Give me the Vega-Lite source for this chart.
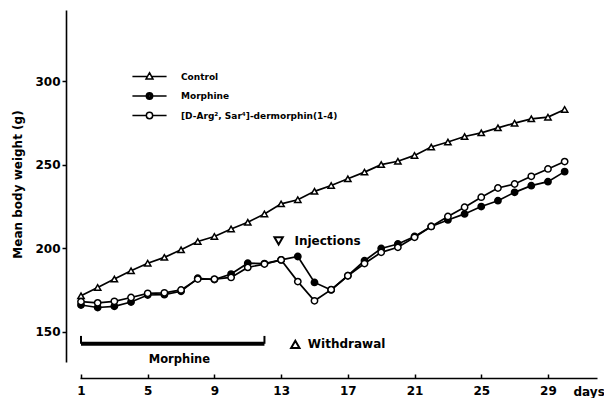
{
  "$schema": "https://vega.github.io/schema/vega-lite/v6.json",
  "width": 517,
  "height": 352,
  "autosize": {"type": "none"},
  "padding": {"left": 80, "top": 10, "right": 7, "bottom": 36},
  "background": "white",
  "config": {
    "view": {"stroke": null},
    "font": "DejaVu Sans",
    "axis": {
      "domainColor": "black",
      "domainWidth": 1.6,
      "tickColor": "black",
      "tickWidth": 1.5,
      "labelColor": "black",
      "labelFont": "DejaVu Sans",
      "labelFontWeight": "bold",
      "labelFontSize": 12,
      "titleColor": "black",
      "titleFont": "DejaVu Sans",
      "titleFontWeight": "bold",
      "grid": false
    }
  },
  "datasets": {
    "weights": [
      {"day": 1, "series": "Control", "weight": 171.5},
      {"day": 2, "series": "Control", "weight": 176.5},
      {"day": 3, "series": "Control", "weight": 181.5},
      {"day": 4, "series": "Control", "weight": 186.5},
      {"day": 5, "series": "Control", "weight": 191},
      {"day": 6, "series": "Control", "weight": 194.5},
      {"day": 7, "series": "Control", "weight": 199},
      {"day": 8, "series": "Control", "weight": 204},
      {"day": 9, "series": "Control", "weight": 207},
      {"day": 10, "series": "Control", "weight": 211.5},
      {"day": 11, "series": "Control", "weight": 215.5},
      {"day": 12, "series": "Control", "weight": 220.5},
      {"day": 13, "series": "Control", "weight": 226.5},
      {"day": 14, "series": "Control", "weight": 229},
      {"day": 15, "series": "Control", "weight": 234},
      {"day": 16, "series": "Control", "weight": 237.5},
      {"day": 17, "series": "Control", "weight": 241.5},
      {"day": 18, "series": "Control", "weight": 245.5},
      {"day": 19, "series": "Control", "weight": 250},
      {"day": 20, "series": "Control", "weight": 252},
      {"day": 21, "series": "Control", "weight": 255.5},
      {"day": 22, "series": "Control", "weight": 260.5},
      {"day": 23, "series": "Control", "weight": 263.5},
      {"day": 24, "series": "Control", "weight": 266.8},
      {"day": 25, "series": "Control", "weight": 269},
      {"day": 26, "series": "Control", "weight": 272},
      {"day": 27, "series": "Control", "weight": 274.8},
      {"day": 28, "series": "Control", "weight": 277.4},
      {"day": 29, "series": "Control", "weight": 278.4},
      {"day": 30, "series": "Control", "weight": 283},
      {"day": 1, "series": "Morphine", "weight": 166},
      {"day": 2, "series": "Morphine", "weight": 164.5},
      {"day": 3, "series": "Morphine", "weight": 165.2},
      {"day": 4, "series": "Morphine", "weight": 167.8},
      {"day": 5, "series": "Morphine", "weight": 172},
      {"day": 6, "series": "Morphine", "weight": 172.2},
      {"day": 7, "series": "Morphine", "weight": 174.2},
      {"day": 8, "series": "Morphine", "weight": 182},
      {"day": 9, "series": "Morphine", "weight": 181.2},
      {"day": 10, "series": "Morphine", "weight": 184.5},
      {"day": 11, "series": "Morphine", "weight": 191},
      {"day": 12, "series": "Morphine", "weight": 190.8},
      {"day": 13, "series": "Morphine", "weight": 193},
      {"day": 14, "series": "Morphine", "weight": 195},
      {"day": 15, "series": "Morphine", "weight": 179.5},
      {"day": 16, "series": "Morphine", "weight": 175},
      {"day": 17, "series": "Morphine", "weight": 183.5},
      {"day": 18, "series": "Morphine", "weight": 192.5},
      {"day": 19, "series": "Morphine", "weight": 199.8},
      {"day": 20, "series": "Morphine", "weight": 202.5},
      {"day": 21, "series": "Morphine", "weight": 207},
      {"day": 22, "series": "Morphine", "weight": 213},
      {"day": 23, "series": "Morphine", "weight": 216.9},
      {"day": 24, "series": "Morphine", "weight": 220.5},
      {"day": 25, "series": "Morphine", "weight": 224.9},
      {"day": 26, "series": "Morphine", "weight": 228.4},
      {"day": 27, "series": "Morphine", "weight": 233.4},
      {"day": 28, "series": "Morphine", "weight": 237.4},
      {"day": 29, "series": "Morphine", "weight": 239.8},
      {"day": 30, "series": "Morphine", "weight": 245.8},
      {"day": 1, "series": "[D-Arg², Sar⁴]-dermorphin(1-4)", "weight": 168},
      {"day": 2, "series": "[D-Arg², Sar⁴]-dermorphin(1-4)", "weight": 167.3},
      {"day": 3, "series": "[D-Arg², Sar⁴]-dermorphin(1-4)", "weight": 168.2},
      {"day": 4, "series": "[D-Arg², Sar⁴]-dermorphin(1-4)", "weight": 170.5},
      {"day": 5, "series": "[D-Arg², Sar⁴]-dermorphin(1-4)", "weight": 173},
      {"day": 6, "series": "[D-Arg², Sar⁴]-dermorphin(1-4)", "weight": 173.3},
      {"day": 7, "series": "[D-Arg², Sar⁴]-dermorphin(1-4)", "weight": 175},
      {"day": 8, "series": "[D-Arg², Sar⁴]-dermorphin(1-4)", "weight": 181.5},
      {"day": 9, "series": "[D-Arg², Sar⁴]-dermorphin(1-4)", "weight": 181.5},
      {"day": 10, "series": "[D-Arg², Sar⁴]-dermorphin(1-4)", "weight": 182.5},
      {"day": 11, "series": "[D-Arg², Sar⁴]-dermorphin(1-4)", "weight": 188.5},
      {"day": 12, "series": "[D-Arg², Sar⁴]-dermorphin(1-4)", "weight": 190.5},
      {"day": 13, "series": "[D-Arg², Sar⁴]-dermorphin(1-4)", "weight": 193},
      {"day": 14, "series": "[D-Arg², Sar⁴]-dermorphin(1-4)", "weight": 180},
      {"day": 15, "series": "[D-Arg², Sar⁴]-dermorphin(1-4)", "weight": 168.5},
      {"day": 16, "series": "[D-Arg², Sar⁴]-dermorphin(1-4)", "weight": 175.2},
      {"day": 17, "series": "[D-Arg², Sar⁴]-dermorphin(1-4)", "weight": 183.5},
      {"day": 18, "series": "[D-Arg², Sar⁴]-dermorphin(1-4)", "weight": 190.8},
      {"day": 19, "series": "[D-Arg², Sar⁴]-dermorphin(1-4)", "weight": 197.5},
      {"day": 20, "series": "[D-Arg², Sar⁴]-dermorphin(1-4)", "weight": 200.5},
      {"day": 21, "series": "[D-Arg², Sar⁴]-dermorphin(1-4)", "weight": 206.5},
      {"day": 22, "series": "[D-Arg², Sar⁴]-dermorphin(1-4)", "weight": 213},
      {"day": 23, "series": "[D-Arg², Sar⁴]-dermorphin(1-4)", "weight": 219},
      {"day": 24, "series": "[D-Arg², Sar⁴]-dermorphin(1-4)", "weight": 224.5},
      {"day": 25, "series": "[D-Arg², Sar⁴]-dermorphin(1-4)", "weight": 230.5},
      {"day": 26, "series": "[D-Arg², Sar⁴]-dermorphin(1-4)", "weight": 236},
      {"day": 27, "series": "[D-Arg², Sar⁴]-dermorphin(1-4)", "weight": 238.4},
      {"day": 28, "series": "[D-Arg², Sar⁴]-dermorphin(1-4)", "weight": 243},
      {"day": 29, "series": "[D-Arg², Sar⁴]-dermorphin(1-4)", "weight": 247.4},
      {"day": 30, "series": "[D-Arg², Sar⁴]-dermorphin(1-4)", "weight": 251.8}
    ],
    "treatment": [
      {"label": "Morphine", "start": 1, "end": 12}
    ],
    "events": [
      {"event": "Injections"},
      {"event": "Withdrawal"}
    ]
  },
  "layer": [
    {
      "data": {"name": "weights"},
      "mark": {"type": "line", "color": "black", "strokeWidth": 1.7},
      "encoding": {
        "x": {
          "field": "day",
          "type": "quantitative",
          "scale": {"domain": [0.94, 31.94], "nice": false, "zero": false},
          "axis": {
            "offset": 16,
            "values": [1, 2, 3, 4, 5, 6, 7, 8, 9, 10, 11, 12, 13, 14, 15, 16, 17, 18, 19, 20, 21, 22, 23, 24, 25, 26, 27, 28, 29, 30],
            "labelExpr": "datum.value % 2 === 1 ? datum.label : ''",
            "tickSize": -4,
            "labelPadding": 11,
            "labelFlush": false,
            "labelOverlap": false,
            "title": "days",
            "titleFontSize": 12,
            "titleAngle": 0,
            "titleX": 493,
            "titleY": 13,
            "titleAlign": "left",
            "titleBaseline": "middle"
          }
        },
        "y": {
          "field": "weight",
          "type": "quantitative",
          "scale": {"domain": [131.9, 342.5], "nice": false, "zero": false},
          "axis": {
            "offset": 14,
            "values": [150, 200, 250, 300],
            "tickSize": 4,
            "labelPadding": 2,
            "title": "Mean body weight  (g)",
            "titleFontSize": 12,
            "titleX": -49,
            "titleY": 174,
            "titleAngle": -90,
            "titleAlign": "center",
            "titleBaseline": "middle"
          }
        },
        "detail": {"field": "series"}
      }
    },
    {
      "data": {"name": "weights"},
      "transform": [{"filter": "datum.series === 'Control'"}],
      "mark": {"type": "point", "shape": "triangle-up", "filled": true, "fill": "white", "stroke": "black", "strokeWidth": 1.5, "opacity": 1, "size": 40},
      "encoding": {
        "x": {"field": "day", "type": "quantitative"},
        "y": {"field": "weight", "type": "quantitative"}
      }
    },
    {
      "data": {"name": "weights"},
      "transform": [{"filter": "datum.series === 'Morphine'"}],
      "mark": {"type": "point", "shape": "circle", "filled": true, "fill": "black", "stroke": "black", "strokeWidth": 1.5, "opacity": 1, "size": 40},
      "encoding": {
        "x": {"field": "day", "type": "quantitative"},
        "y": {"field": "weight", "type": "quantitative"}
      }
    },
    {
      "data": {"name": "weights"},
      "transform": [{"filter": "datum.series !== 'Control' && datum.series !== 'Morphine'"}],
      "mark": {"type": "point", "shape": "circle", "filled": true, "fill": "white", "stroke": "black", "strokeWidth": 1.5, "opacity": 1, "size": 40},
      "encoding": {
        "x": {"field": "day", "type": "quantitative"},
        "y": {"field": "weight", "type": "quantitative"}
      }
    },
    {
      "data": {"name": "weights"},
      "transform": [{"filter": "datum.day === 1"}],
      "mark": {"type": "point", "filled": true, "fill": "white", "stroke": "black", "strokeWidth": 1.5, "opacity": 1, "size": 40, "clip": true},
      "encoding": {
        "x": {"field": "day", "type": "quantitative"},
        "y": {"datum": 500},
        "shape": {
          "field": "series",
          "type": "nominal",
          "sort": null,
          "scale": {
            "domain": ["Control", "Morphine", "[D-Arg², Sar⁴]-dermorphin(1-4)"],
            "range": [
              "M-5.4,0H-0.66M0.66,0H5.4M0,-1.2L1.1,0.8L-1.1,0.8Z",
              "M-5.4,0H-1M1,0H5.4M1,0A1,1,0,1,1,-1,0A1,1,0,1,1,1,0ZM0.55,0A0.55,0.55,0,1,1,-0.55,0A0.55,0.55,0,1,1,0.55,0ZM0.15,0A0.15,0.15,0,1,1,-0.15,0A0.15,0.15,0,1,1,0.15,0Z",
              "M-5.4,0H-1M1,0H5.4M1,0A1,1,0,1,1,-1,0A1,1,0,1,1,1,0Z"
            ]
          },
          "legend": {
            "title": null,
            "orient": "none",
            "legendX": 65,
            "legendY": 62,
            "padding": 0,
            "symbolSize": 40,
            "symbolOffset": 0,
            "labelOffset": 27,
            "labelFont": "DejaVu Sans",
            "labelFontWeight": "bold",
            "labelFontSize": 9,
            "labelColor": "black",
            "labelLimit": 400,
            "rowPadding": 6.5
          }
        }
      }
    },
    {
      "data": {"name": "treatment"},
      "mark": {"type": "rule", "color": "black", "strokeWidth": 4},
      "encoding": {
        "x": {"field": "start", "type": "quantitative"},
        "x2": {"field": "end"},
        "y": {"datum": 142.8}
      }
    },
    {
      "data": {"name": "treatment"},
      "mark": {"type": "rule", "color": "black", "strokeWidth": 2},
      "encoding": {
        "x": {"field": "start", "type": "quantitative"},
        "y": {"datum": 142.8},
        "y2": {"datum": 147.5}
      }
    },
    {
      "data": {"name": "treatment"},
      "mark": {"type": "rule", "color": "black", "strokeWidth": 2},
      "encoding": {
        "x": {"field": "end", "type": "quantitative"},
        "y": {"datum": 142.8},
        "y2": {"datum": 147.5}
      }
    },
    {
      "data": {"name": "treatment"},
      "mark": {"type": "text", "font": "DejaVu Sans", "fontWeight": "bold", "fontSize": 11.5, "color": "black", "align": "center", "baseline": "middle"},
      "encoding": {
        "x": {"datum": 6.9},
        "y": {"datum": 133.2},
        "text": {"field": "label"}
      }
    },
    {
      "data": {"name": "events"},
      "transform": [{"filter": "datum.event === 'Injections'"}],
      "layer": [
        {
          "mark": {"type": "point", "shape": "triangle-down", "size": 70, "filled": true, "fill": "white", "stroke": "black", "strokeWidth": 2, "opacity": 1},
          "encoding": {"x": {"datum": 12.85}, "y": {"datum": 204.3}}
        },
        {
          "mark": {"type": "text", "font": "DejaVu Sans", "fontWeight": "bold", "fontSize": 12, "color": "black", "align": "left", "baseline": "middle"},
          "encoding": {"x": {"datum": 13.8}, "y": {"datum": 204}, "text": {"field": "event"}}
        }
      ]
    },
    {
      "data": {"name": "events"},
      "transform": [{"filter": "datum.event === 'Withdrawal'"}],
      "layer": [
        {
          "mark": {"type": "point", "shape": "triangle-up", "size": 70, "filled": true, "fill": "white", "stroke": "black", "strokeWidth": 2, "opacity": 1},
          "encoding": {"x": {"datum": 13.85}, "y": {"datum": 142.5}}
        },
        {
          "mark": {"type": "text", "font": "DejaVu Sans", "fontWeight": "bold", "fontSize": 12, "color": "black", "align": "left", "baseline": "middle"},
          "encoding": {"x": {"datum": 14.6}, "y": {"datum": 142.5}, "text": {"field": "event"}}
        }
      ]
    }
  ]
}
